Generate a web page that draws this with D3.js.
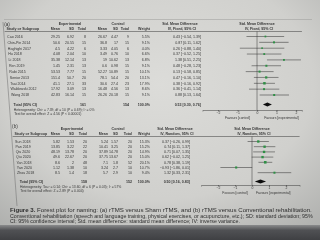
<!DOCTYPE html>
<html lang="en">
<head>
<meta charset="UTF-8">
<title>Forest plot for naming</title>
<script src="https://d3js.org/d3.v7.min.js"></script>
<style>
    body { margin: 0; background: #555; }
    svg { display: block; font-family: "Liberation Sans", Arial, sans-serif; }
</style>
</head>
<body>
<div id="chart"></div>
<script>
// ---- panel (a): rTMS vs sham ----
const studiesA = ["Cao 2016", "Chin-Pin 2014", "Haghighi 2017", "Hu 2018", "Li 2018", "Ren 2019",
    "Rubi 2015", "Senior 2013", "Tsai 2014", "Waldowski 2012", "Wang 2018"];
const expMeanA = [29.25, 50.6, 4.5, 4.08, 35.38, 1.45, 53.53, 151.4, 41.1, 17.92, 42.83];
const expSdA = [6.92, 20.55, 4.22, 2.04, 12.14, 2.31, 7.77, 50.7, 27.1, 3.09, 16.14];
const expNA = [8, 15, 6, 10, 13, 13, 15, 20, 33, 13, 15];
const ctlMeanA = [26.67, 36.8, 3.33, 3.49, 19, 0.6, 52.27, 78.1, 30.6, 16.48, 26.26];
const ctlSdA = [4.47, 17, 4.05, 0.76, 10.62, 0.98, 10.89, 54.4, 27.4, 4.56, 20.18];
const ctlNA = [9, 15, 6, 10, 13, 15, 15, 20, 23, 13, 15];
const weightA = [5.5, 9.1, 4.0, 6.6, 6.8, 9.1, 10.1, 13.1, 17.9, 8.6, 9.1];
const smdA = [0.43, 0.87, 0.26, 0.37, 1.38, 0.48, 0.13, 0.47, 0.38, 0.36, 0.88];
const lowA = [-0.54, 0.11, -0.88, -0.52, 0.51, -0.28, -0.58, -0.16, -0.16, -0.41, 0.13];
const highA = [1.39, 1.62, 1.40, 1.25, 2.25, 1.23, 0.85, 1.10, 0.92, 1.14, 1.64];
const totalA = { nExp: 161, nCtl: 154, smd: 0.53, low: 0.30, high: 0.76 };
const notesA = ["Heterogeneity: Chi\u00b2 = 7.39, df = 10 (P = 0.69); I\u00b2 = 0%",
    "Test for overall effect: Z = 4.56 (P < 0.00001)"];

// ---- panel (b): rTMS vs conventional rehabilitation ----
const studiesB = ["Sun 2018", "Pan 2019", "Qiu 2020", "Qiu 2020", "Yan 2018", "Yan 2020", "Zhou 2018"];
const expMeanB = [5.82, 13.85, 48.19, 49.6, 8.6, 1.12, 8.5];
const expSdB = [1.53, 3.22, 13.78, 22.67, 2, 1.38, 1.4];
const expNB = [20, 22, 20, 20, 48, 10, 18];
const ctlMeanB = [5.24, 10.41, 37.89, 37.75, 7.1, 3.24, 5.7];
const ctlSdB = [1.57, 3.25, 14.78, 13.67, 1.8, 2.7, 2.9];
const ctlNB = [20, 20, 20, 20, 52, 10, 10];
const weightB = [15.3, 15.2, 14.9, 15.0, 20.1, 10.7, 9.4];
const smdB = [0.37, 0.74, 0.71, 0.62, 0.78, -0.93, 1.32];
const lowB = [-0.26, 0.11, 0.07, -0.02, 0.38, -1.86, 0.33];
const highB = [0.99, 1.37, 1.35, 1.25, 1.19, 0.01, 2.31];
const totalB = { nExp: 158, nCtl: 152, smd: 0.50, low: 0.16, high: 0.83 };
const notesB = ["Heterogeneity: Tau\u00b2 = 0.14; Chi\u00b2 = 13.60, df = 6 (P = 0.03); I\u00b2 = 57%",
    "Test for overall effect: Z = 2.89 (P = 0.004)"];

const axisTicks = [-2, -1, 0, 1, 2];

const width = 320, height = 240;
const svg = d3.select("#chart").append("svg")
    .attr("width", width).attr("height", height);

const defs = svg.append("defs");
const bg = defs.append("radialGradient").attr("id", "paper")
    .attr("cx", "50%").attr("cy", "35%").attr("r", "80%");
bg.append("stop").attr("offset", "0%").attr("stop-color", "#dcdcd9");
bg.append("stop").attr("offset", "60%").attr("stop-color", "#d0d0cd");
bg.append("stop").attr("offset", "100%").attr("stop-color", "#acadab");
const floor = defs.append("linearGradient").attr("id", "floor")
    .attr("x1", 0).attr("x2", 0).attr("y1", 0).attr("y2", 1);
floor.append("stop").attr("offset", "0%").attr("stop-color", "#8a8b8c");
floor.append("stop").attr("offset", "35%").attr("stop-color", "#505154");
floor.append("stop").attr("offset", "100%").attr("stop-color", "#3f4043");
defs.append("filter").attr("id", "soft")
    .append("feGaussianBlur").attr("stdDeviation", 0.28);

svg.append("rect").attr("width", width).attr("height", height).attr("fill", "url(#paper)");
svg.append("rect").attr("y", 225).attr("width", width).attr("height", 15).attr("fill", "url(#floor)");

const g = svg.append("g").attr("filter", "url(#soft)");
const ink = "#363636";

// page edge line on the left, and the faint top rule of the figure
g.append("line").attr("x1", 3).attr("y1", 22).attr("x2", 17).attr("y2", 206)
    .attr("stroke", "#6a6a6a").attr("stroke-width", 0.5);
g.append("line").attr("x1", 4).attr("y1", 19.5).attr("x2", 312).attr("y2", 19.5)
    .attr("stroke", "#9a9a98").attr("stroke-width", 0.5);

function txt(x, y, s, opt = {}) {
    return g.append("text")
        .attr("x", x).attr("y", y)
        .attr("font-size", opt.size || 3.6)
        .attr("font-weight", opt.bold ? "bold" : null)
        .attr("text-anchor", opt.anchor || "start")
        .attr("fill", opt.color || ink)
        .text(s);
}

const f2 = d3.format(".2f"), f1 = d3.format(".1f");
const ciText = (m, l, h) => `${f2(m)} [${f2(l)}, ${f2(h)}]`;

function panel(p) {
    const c = p.cols;
    // left text drifts right further down the page (photo angle)
    const nx = yy => p.nameX + (yy - p.rowY0) * 0.065;

    txt(nx(p.labelY) - 2, p.labelY, p.label, { size: 4.6 });
    txt(c.expGroup, p.groupY, "Experimental", { anchor: "middle", bold: true });
    txt(c.ctlGroup, p.groupY, "Control", { anchor: "middle", bold: true });
    txt(c.ciHead, p.groupY, "Std. Mean Difference", { anchor: "middle", bold: true });
    txt(c.ciHead + 2, p.headY, p.method, { anchor: "middle", bold: true });
    txt(p.x(0), p.groupY, "Std. Mean Difference", { anchor: "middle", bold: true });
    txt(p.x(0) + 2, p.headY, p.method, { anchor: "middle", bold: true });

    txt(nx(p.headY), p.headY, "Study or Subgroup", { bold: true });
    [["Mean", c.expMean], ["SD", c.expSd], ["Total", c.expN],
     ["Mean", c.ctlMean], ["SD", c.ctlSd], ["Total", c.ctlN], ["Weight", c.weight]]
        .forEach(([s, x]) => txt(x, p.headY, s, { anchor: "end", bold: true }));

    g.append("line").attr("x1", nx(p.lineY) - 2).attr("x2", p.x.range()[1])
        .attr("y1", p.lineY).attr("y2", p.lineY).attr("stroke", ink).attr("stroke-width", 0.5);

    const y = i => p.rowY0 + i * p.rowStep;

    p.studies.forEach((s, i) => {
        const yy = y(i) + 1.3;
        txt(nx(yy), yy, s);
        txt(c.expMean, yy, p.expMean[i], { anchor: "end" });
        txt(c.expSd, yy, p.expSd[i], { anchor: "end" });
        txt(c.expN, yy, p.expN[i], { anchor: "end" });
        txt(c.ctlMean, yy, p.ctlMean[i], { anchor: "end" });
        txt(c.ctlSd, yy, p.ctlSd[i], { anchor: "end" });
        txt(c.ctlN, yy, p.ctlN[i], { anchor: "end" });
        txt(c.weight, yy, f1(p.weight[i]) + "%", { anchor: "end" });
        txt(c.ci, yy, ciText(p.smd[i], p.low[i], p.high[i]), { anchor: "end" });
    });

    // total row
    const ty = p.totalY + 1.3;
    txt(nx(ty) + 2, ty, "Total (95% CI)", { bold: true });
    txt(c.expN, ty, p.total.nExp, { anchor: "end", bold: true });
    txt(c.ctlN, ty, p.total.nCtl, { anchor: "end", bold: true });
    txt(c.weight, ty, "100.0%", { anchor: "end", bold: true });
    txt(c.ci, ty, ciText(p.total.smd, p.total.low, p.total.high), { anchor: "end", bold: true });
    p.notes.forEach((s, i) => {
        const yy = ty + p.noteStep * (i + 1);
        txt(nx(yy) + 2, yy, s, { size: 3.4 });
    });

    // plot
    const plot = g.append("g");
    plot.append("line").attr("x1", p.x(0)).attr("x2", p.x(0))
        .attr("y1", p.lineY).attr("y2", p.axisY)
        .attr("stroke", ink).attr("stroke-width", 0.5);

    p.studies.forEach((s, i) => {
        plot.append("line")
            .attr("x1", p.x(p.low[i])).attr("x2", p.x(p.high[i]))
            .attr("y1", y(i)).attr("y2", y(i))
            .attr("stroke", "#2a2a2a").attr("stroke-width", 0.5);
        const side = 0.8 + Math.sqrt(p.weight[i]) * 0.4;
        plot.append("rect")
            .attr("x", p.x(p.smd[i]) - side / 2).attr("y", y(i) - side / 2)
            .attr("width", side).attr("height", side)
            .attr("fill", "#2f8f45");
    });

    const dh = 2;
    plot.append("polygon")
        .attr("points", [[p.x(p.total.low), p.totalY], [p.x(p.total.smd), p.totalY - dh],
            [p.x(p.total.high), p.totalY], [p.x(p.total.smd), p.totalY + dh]].join(" "))
        .attr("fill", "#111");

    const ax = plot.append("g").attr("transform", `translate(0,${p.axisY})`)
        .call(d3.axisBottom(p.x).tickValues(axisTicks).tickSize(1.5).tickPadding(0.5).tickFormat(d3.format("d")));
    ax.select(".domain").attr("stroke", ink).attr("stroke-width", 0.5);
    ax.selectAll(".tick line").attr("stroke", ink).attr("stroke-width", 0.5);
    ax.selectAll(".tick text").attr("font-size", 3.4).attr("fill", ink).attr("font-family", null);

    txt(p.x(-1), p.axisY + 8.5, "Favours [control]", { anchor: "middle", size: 3.4 });
    txt(p.x(1.25), p.axisY + 8.5, "Favours [experimental]", { anchor: "middle", size: 3.4 });
}

panel({
    label: "(a)", labelY: 25.5, groupY: 24.5, headY: 30, lineY: 31.5,
    nameX: 7, rowY0: 36.5, rowStep: 5.85, totalY: 104.5, noteStep: 4.8, axisY: 110,
    method: "IV, Fixed, 95% CI",
    x: d3.scaleLinear().domain([-2.8, 2.3]).range([202.4, 301.9]),
    cols: { expGroup: 70, ctlGroup: 118, ciHead: 180, expMean: 60, expSd: 74, expN: 86,
        ctlMean: 107, ctlSd: 118, ctlN: 129, weight: 150, ci: 201 },
    studies: studiesA, expMean: expMeanA, expSd: expSdA, expN: expNA,
    ctlMean: ctlMeanA, ctlSd: ctlSdA, ctlN: ctlNA, weight: weightA,
    smd: smdA, low: lowA, high: highA, total: totalA, notes: notesA
});

panel({
    label: "(b)", labelY: 128, groupY: 129.5, headY: 135, lineY: 136.5,
    nameX: 15, rowY0: 141.5, rowStep: 5.2, totalY: 181.5, noteStep: 4.8, axisY: 185,
    method: "IV, Random, 95% CI",
    x: d3.scaleLinear().domain([-3, 2.8]).range([201, 299.6]),
    cols: { expGroup: 72, ctlGroup: 118, ciHead: 175, expMean: 60, expSd: 74, expN: 87,
        ctlMean: 108, ctlSd: 118, ctlN: 132, weight: 150, ci: 190 },
    studies: studiesB, expMean: expMeanB, expSd: expSdB, expN: expNB,
    ctlMean: ctlMeanB, ctlSd: ctlSdB, ctlN: ctlNB, weight: weightB,
    smd: smdB, low: lowB, high: highB, total: totalB, notes: notesB
});

// caption
const cap = txt(10, 212, "", { size: 6.1, color: "#2e2e2e" });
cap.append("tspan").attr("font-weight", "bold").text("Figure 3.");
cap.append("tspan").text("  Forest plot for naming: (a) rTMS versus Sham rTMS, and (b) rTMS versus Conventional rehabilitation.");
txt(10, 217.5, "Conventional rehabilitation (speech and language training, physical exercises, or acupuncture, etc.); SD: standard deviation; 95%", { size: 5.3, color: "#2e2e2e" });
txt(10, 222.5, "CI: 95% confidence interval; Std. mean difference: standard mean difference; IV: inverse variance.", { size: 5.3, color: "#2e2e2e" });
</script>
</body>
</html>
